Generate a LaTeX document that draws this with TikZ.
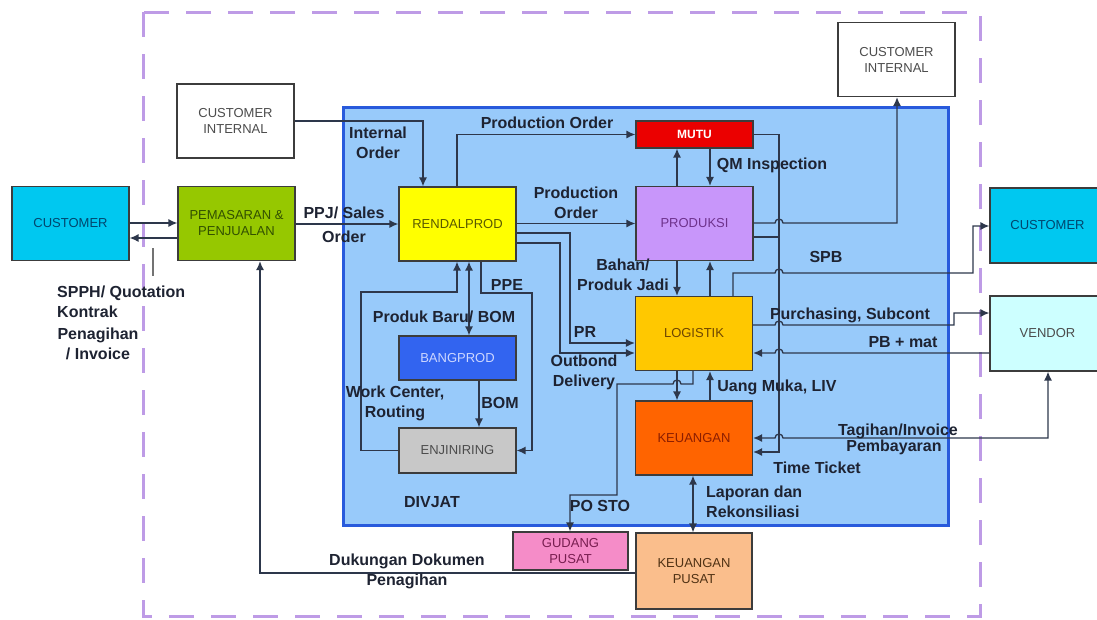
\documentclass[tikz,border=0pt]{standalone}
\usepackage{fontspec}
\setmainfont{Liberation Sans}
\usetikzlibrary{arrows.meta}

\definecolor{frame}{RGB}{190,155,230}
\definecolor{divfill}{RGB}{152,202,250}
\definecolor{divline}{RGB}{40,90,220}
\definecolor{boxline}{RGB}{60,60,60}
\definecolor{linkc}{RGB}{45,55,75}
\definecolor{lbltext}{RGB}{30,35,50}
\definecolor{custfill}{RGB}{0,200,240}
\definecolor{custtext}{RGB}{0,70,110}
\definecolor{pemfill}{RGB}{150,200,0}
\definecolor{pemtext}{RGB}{50,80,0}
\definecolor{rendfill}{RGB}{255,255,0}
\definecolor{rendtext}{RGB}{90,90,0}
\definecolor{mutufill}{RGB}{235,0,0}
\definecolor{prodfill}{RGB}{200,150,250}
\definecolor{prodtext}{RGB}{110,50,140}
\definecolor{logfill}{RGB}{255,200,0}
\definecolor{logtext}{RGB}{110,70,0}
\definecolor{keufill}{RGB}{255,100,0}
\definecolor{keutext}{RGB}{140,30,0}
\definecolor{bangfill}{RGB}{50,100,240}
\definecolor{bangtext}{RGB}{205,215,255}
\definecolor{enjfill}{RGB}{200,200,200}
\definecolor{vendfill}{RGB}{205,255,255}
\definecolor{gudfill}{RGB}{245,140,200}
\definecolor{gudtext}{RGB}{120,30,80}
\definecolor{kpfill}{RGB}{250,190,140}
\definecolor{kptext}{RGB}{80,50,20}

\tikzset{
  box/.style={draw=boxline, line width=1.2pt, minimum width=117pt, minimum height=74pt,
    inner sep=0pt, align=center, text=black!70, font=\fontsize{13}{16}\selectfont},
  lbl/.style={font=\bfseries\fontsize{16}{20}\selectfont, text=lbltext, align=center, inner sep=0pt},
  link/.style={draw=linkc, line width=1.3pt},
  arr/.style={link, -{Latex[length=9pt,width=8pt]}},
  darr/.style={link, {Latex[length=9pt,width=8pt]}-{Latex[length=9pt,width=8pt]}}
}

\begin{document}
\begin{tikzpicture}[x=1pt, y=-1pt]
    \useasboundingbox (0,0) rectangle (1097,619);

    \draw[frame, line width=3pt, dash pattern=on 25pt off 17pt] (143,12) rectangle (980,616);
    \draw[fill=divfill, draw=divline, line width=3pt] (343,107) rectangle (948,525);

    \node[box, fill=custfill, text=custtext] (cust) at (70.5,223.5) {CUSTOMER};
    \node[box, fill=pemfill, text=pemtext] (pemasaran) at (236.5,223.5) {PEMASARAN \&\\PENJUALAN};
    \node[box, fill=white, text=black!70] (cintl) at (235.5,121) {CUSTOMER\\INTERNAL};
    \node[box, fill=rendfill, text=rendtext] (rendal) at (457.5,224) {RENDALPROD};
    \node[box, fill=mutufill, text=white, minimum height=27pt, font=\bfseries\fontsize{12}{14}\selectfont] (mutu) at (694.5,134.5) {MUTU};
    \node[box, fill=prodfill, text=prodtext] (produksi) at (694.5,223.5) {PRODUKSI};
    \node[box, fill=logfill, text=logtext] (logistik) at (694,333.5) {LOGISTIK};
    \node[box, fill=keufill, text=keutext] (keuangan) at (694,438) {KEUANGAN};
    \node[box, fill=bangfill, text=bangtext, minimum height=44pt] (bangprod) at (457.5,358) {BANGPROD};
    \node[box, fill=enjfill, text=black!70, minimum height=45pt] (enjiniring) at (457.5,450.5) {ENJINIRING};
    \node[box, fill=white, text=black!70] (cintr) at (896.5,59.5) {CUSTOMER\\INTERNAL};
    \node[box, fill=custfill, text=custtext, minimum width=115pt, minimum height=75pt] (custr) at (1047.5,225.5) {CUSTOMER};
    \node[box, fill=vendfill, text=black!70, minimum width=115pt, minimum height=75pt] (vendor) at (1047.5,333.5) {VENDOR};
    \node[box, fill=gudfill, text=gudtext, minimum width=115pt, minimum height=38pt] (gudang) at (570.5,551) {GUDANG\\PUSAT};
    \node[box, fill=kpfill, text=kptext, minimum width=116pt, minimum height=76pt] (kpusat) at (694,571) {KEUANGAN\\PUSAT};

    \draw[arr] (cust.east |- 0,223) -- (pemasaran.west |- 0,223);
    \draw[arr] (pemasaran.west |- 0,238) -- (cust.east |- 0,238);
    \coordinate (tickA) at (153,248);
    \coordinate (tickB) at (153,276);
    \draw[link, draw=black!55] (tickA) -- (tickB);
    \draw[arr] (pemasaran.east |- 0,224) -- (rendal.west);
    \draw[arr] (cintl.east) -| (rendal.north -| 423,0);
    \draw[arr] (rendal.north -| 457,0) |- (mutu.west);
    \draw[arr] (rendal.east |- 0,223.5) -- (produksi.west);
    \draw[arr] (rendal.east |- 0,233) -| (570,343) -- (logistik.west |- 0,343);
    \draw[arr] (rendal.east |- 0,243) -| (560,353) -- (logistik.west |- 0,353);
    \draw[darr] (rendal.south -| 469,0) -- (bangprod.north -| 469,0);
    \draw[arr] (enjiniring.west) -| (361,292) -| (rendal.south -| 457,0);
    \draw[arr] (rendal.south -| 481,0) |- (532,293) |- (enjiniring.east);
    \draw[arr] (bangprod.south -| 479,0) -- (enjiniring.north -| 479,0);

    \draw[arr] (produksi.north -| 677,0) -- (mutu.south -| 677,0);
    \draw[arr] (mutu.south -| 710,0) -- (produksi.north -| 710,0);
    \draw[arr] (produksi.south -| 677,0) -- (logistik.north -| 677,0);
    \draw[arr] (logistik.north -| 710,0) -- (produksi.south -| 710,0);
    \draw[arr] (logistik.south -| 677,0) -- (keuangan.north -| 677,0);
    \draw[arr] (keuangan.north -| 710,0) -- (logistik.south -| 710,0);

    \draw[arr] (mutu.east) -| (779,452) -- (keuangan.east |- 0,452);
    \draw[link] (produksi.east |- 0,237) -- (779,237);
    \draw[arr] (produksi.east |- 0,223) -- (775,223) arc[start angle=180, end angle=360, radius=4] -| (cintr.south -| 897,0);
    \draw[arr] (logistik.north -| 733,0) |- (775,273) arc[start angle=180, end angle=360, radius=4] -| (973,226) -- (custr.west |- 0,226);
    \draw[arr] (logistik.east |- 0,325) -- (775,325) arc[start angle=180, end angle=360, radius=4] -| (954,313) -- (vendor.west |- 0,313);
    \draw[arr] (vendor.west |- 0,353) -- (783,353) arc[start angle=0, end angle=-180, radius=4] -- (logistik.east |- 0,353);
    \draw[darr] (keuangan.east |- 0,438) -- (775,438) arc[start angle=180, end angle=360, radius=4] -| (vendor.south -| 1048,0);
    \draw[arr] (logistik.south -| 693,0) |- (681,384) arc[start angle=0, end angle=-180, radius=4] -| (617,495) -| (gudang.north -| 570,0);
    \draw[darr] (keuangan.south -| 693,0) -- (kpusat.north -| 693,0);
    \draw[arr] (kpusat.west |- 0,573) -| (pemasaran.south -| 260,0);

    \node[lbl, anchor=west] (lspph) at (57,293) {SPPH/ Quotation};
    \node[lbl, anchor=west] (lkontrak) at (57,312) {Kontrak};
    \node[lbl] (lpenagihan) at (98,344) {Penagihan\\/ Invoice};
    \node[lbl] (lppj) at (344,225) {PPJ/ Sales\\[4pt]Order};
    \node[lbl] (linternal) at (378,143) {Internal\\Order};
    \node[lbl] (lprodorderA) at (547,123) {Production Order};
    \node[lbl] (lprodorderB) at (576,203) {Production\\Order};
    \node[lbl] (lqm) at (772,165) {QM Inspection};
    \node[lbl] (lbahan) at (623,275) {Bahan/\\Produk Jadi};
    \node[lbl] (lspb) at (826,257) {SPB};
    \node[lbl] (lppe) at (507,285) {PPE};
    \node[lbl] (lprodbaru) at (444,317) {Produk Baru/ BOM};
    \node[lbl] (lpr) at (585,332) {PR};
    \node[lbl] (loutbond) at (584,372) {Outbond\\Delivery};
    \node[lbl] (lwork) at (395,403) {Work Center,\\Routing};
    \node[lbl] (lbom) at (500,403) {BOM};
    \node[lbl] (ldivjat) at (432,502) {DIVJAT};
    \node[lbl] (lposto) at (600,506) {PO STO};
    \node[lbl] (lpurch) at (850,315) {Purchasing, Subcont};
    \node[lbl] (lpbmat) at (903,342) {PB + mat};
    \node[lbl] (luang) at (777,387) {Uang Muka, LIV};
    \node[lbl] (ltagihan) at (898,431) {Tagihan/Invoice};
    \node[lbl] (lpembayaran) at (894,447) {Pembayaran};
    \node[lbl] (ltime) at (817,468) {Time Ticket};
    \node[lbl, anchor=west, align=left] (llaporan) at (706,502) {Laporan dan\\Rekonsiliasi};
    \node[lbl] (ldukungan) at (407,571) {Dukungan Dokumen\\Penagihan};
\end{tikzpicture}
\end{document}
